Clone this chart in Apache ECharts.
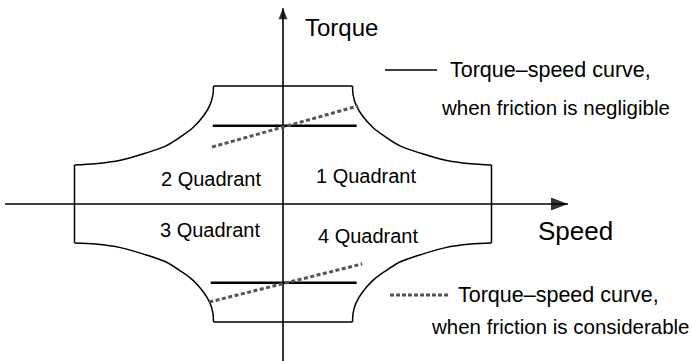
<!DOCTYPE html>
<html><head><meta charset="utf-8">
<script src="https://cdn.jsdelivr.net/npm/echarts@6/dist/echarts.min.js"></script>
<style>html,body{margin:0;padding:0;background:#fff}#c{width:692px;height:361px}</style>
</head><body><div id="c"></div>
<script>
// ---- data (speed in per-unit of base speed, torque in per-unit of rated torque) ----
const speedRange = [-4.072, 5.885];
const torqueRange = [-1.331, 1.729];
const speedAxisLine = [[-4.0, 0], [4.1, 0]];
const torqueAxisLine = [[0, -1.45], [0, 1.66]];
// envelope: constant-torque region up to base speed, then field weakening up to 3x
const topEdge = [[-1, 1], [1, 1]];
const bottomEdge = [[-1, -1], [1, -1]];
const rightEdge = [[3, 0.33], [3, -0.33]];
const leftEdge = [[-3, 0.33], [-3, -0.33]];
// field-weakening arc in quadrant 1
const arcQ1 = [[1.0, 1.0], [1.01, 0.92], [1.05, 0.84], [1.14, 0.75], [1.29, 0.65], [1.47, 0.57],
  [1.69, 0.49], [1.98, 0.43], [2.34, 0.37], [2.70, 0.34], [3.0, 0.33]];
// torque-speed curve, negligible friction (constant load torque)
const negligibleTop = [[-1.01, 0.663], [1.06, 0.663]];
const negligibleBottom = [[-1.04, -0.667], [1.06, -0.667]];
// torque-speed curve, considerable friction
const considerableTop = [[-1.02, 0.483], [1.08, 0.831]];
const considerableBottom = [[-1.06, -0.831], [1.14, -0.508]];
const quadrantLabels = ['1 Quadrant', '2 Quadrant', '3 Quadrant', '4 Quadrant'];
const axisNames = ['Speed', 'Torque'];
const legendTexts = [['Torque\u2013speed curve,', 'when friction is negligible'],
  ['Torque\u2013speed curve,', 'when friction is considerable']];

// ---- build ----
const mirror = (arr, sx, sy) => arr.map(([w, t]) => [w * sx, t * sy]);
const FONT = '"Liberation Sans", Arial, Helvetica, sans-serif';
function line(data, style, extra) {
  return Object.assign({ type: 'line', data, symbol: 'none', silent: true, animation: false,
    lineStyle: Object.assign({ color: '#000', width: 1.5 }, style) }, extra || {});
}
const series = [
  line(speedAxisLine, { width: 1.6 }),
  line(torqueAxisLine, { width: 1.6 }),
  { type: 'scatter', data: [speedAxisLine[1]], symbol: 'path://M0,0 L17,6.5 L0,13 Z',
    symbolSize: [17, 13], symbolOffset: [-8.5, 0], itemStyle: { color: '#000' }, silent: true, animation: false },
  { type: 'scatter', data: [torqueAxisLine[1]], symbol: 'path://M0,11 L4.5,0 L9,11 Z',
    symbolSize: [9, 11], symbolOffset: [0, 5.5], itemStyle: { color: '#000' }, silent: true, animation: false },
  line(topEdge, {}), line(bottomEdge, {}), line(rightEdge, {}), line(leftEdge, {}),
  line(arcQ1, {}, { smooth: 0.3 }),
  line(mirror(arcQ1, -1, 1), {}, { smooth: 0.3 }),
  line(mirror(arcQ1, -1, -1), {}, { smooth: 0.3 }),
  line(mirror(arcQ1, 1, -1), {}, { smooth: 0.3 }),
  line(negligibleTop, { width: 2.5 }),
  line(negligibleBottom, { width: 2.5 }),
  line(considerableTop, { width: 3, color: '#555', type: [4, 2.5] }),
  line(considerableBottom, { width: 3, color: '#555', type: [4, 2.5] })
];
function txt(x, y, text, size, align) {
  return { type: 'text', x, y, silent: true,
    style: { text, fill: '#000', fontSize: size, fontFamily: FONT,
      textAlign: align || 'left', textVerticalAlign: 'middle' } };
}
const graphic = [
  txt(305, 27, axisNames[1], 24),
  txt(538, 231, axisNames[0], 26),
  txt(366, 176, quadrantLabels[0], 20, 'center'),
  txt(211, 179, quadrantLabels[1], 20, 'center'),
  txt(210, 230, quadrantLabels[2], 20, 'center'),
  txt(368, 236, quadrantLabels[3], 20, 'center'),
  { type: 'line', silent: true, shape: { x1: 385, y1: 70, x2: 437, y2: 70 }, style: { stroke: '#000', lineWidth: 1.5 } },
  txt(450, 70, legendTexts[0][0], 21.5),
  txt(442, 107, legendTexts[0][1], 20.5),
  { type: 'line', silent: true, shape: { x1: 390, y1: 295, x2: 448, y2: 295 }, style: { stroke: '#555', lineWidth: 3, lineDash: [4, 2] } },
  txt(458, 295, legendTexts[1][0], 21.5),
  txt(432, 326, legendTexts[1][1], 20.5)
];
const chart = echarts.init(document.getElementById('c'), null, { renderer: 'svg' });
chart.setOption({
  animation: false,
  backgroundColor: '#fff',
  grid: { left: 0, right: 0, top: 0, bottom: 0 },
  xAxis: { type: 'value', min: speedRange[0], max: speedRange[1], show: false },
  yAxis: { type: 'value', min: torqueRange[0], max: torqueRange[1], show: false },
  series, graphic
});
</script></body></html>
